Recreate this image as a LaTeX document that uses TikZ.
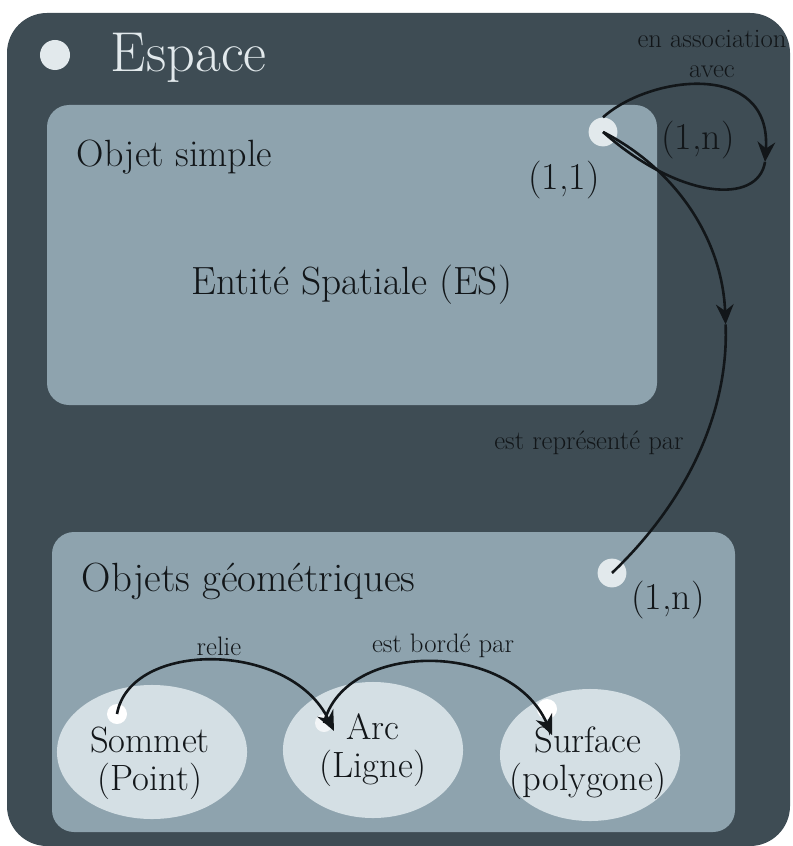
\documentclass[tikz,border=0pt]{standalone}
\usepackage{tikz}
\usetikzlibrary{arrows.meta,shapes.geometric}
\definecolor{espacegris}{RGB}{62,76,84}
\definecolor{objetgris}{RGB}{142,163,174}
\definecolor{bulleclaire}{RGB}{212,223,228}
\definecolor{pointclair}{RGB}{226,233,236}
\definecolor{encre}{RGB}{18,22,25}
\tikzset{
	panneau/.style={fill=objetgris, draw=none, rounded corners=0.55cm},
	pastille/.style={circle, fill=pointclair, draw=none, inner sep=0pt},
	bulle/.style={ellipse, fill=bulleclaire, draw=none, inner sep=0pt},
	bulletexte/.style={align=center, text=encre, font=\fontsize{26}{27}\selectfont},
	titre/.style={text=encre, font=\fontsize{27}{30}\selectfont},
	petit/.style={text=encre, font=\fontsize{19}{22}\selectfont, align=center},
	card/.style={text=encre, font=\fontsize{27}{30}\selectfont},
	lien/.style={line width=0.65mm, color=encre, -{Stealth[length=5mm,width=4.4mm]}},
	trait/.style={line width=0.65mm, color=encre}
}

\begin{document}
\begin{tikzpicture}[x=0.025cm, y=-0.025cm]
		%%%%% START %%%%%
		\useasboundingbox (0, 0) rectangle (792, 846);
		
		\fill[espacegris, rounded corners=1cm] (7, 13) rectangle (790, 846);
		\node[pastille, minimum size=0.75cm] (dotEspace) at (55, 55) {};
		\node[anchor=base west, text=pointclair, font=\fontsize{40}{44}\selectfont] (espace) at (106, 72) {Espace};
		
		\fill[panneau] (47, 105) rectangle (657, 405);
		\fill[panneau] (52, 532) rectangle (735, 832);
		
		\node[titre, anchor=base west] (simple) at (72, 167) {Objet simple};
		\node[titre, anchor=base, font=\fontsize{28}{30}\selectfont] (es) at (352, 294) {Entité Spatiale (ES)};
		\node[titre, anchor=base west, font=\fontsize{29}{32}\selectfont] (geo) at (77, 591) {Objets géométriques};
		
		\node[pastille, minimum size=0.72cm] (dotES) at (603, 132) {};
		\node[pastille, minimum size=0.72cm] (dotGeo) at (612, 573) {};
		
		\node[card] (cardES) at (564, 180) {(1,1)};
		\node[card] (cardLoop) at (698, 140) {(1,n)};
		\node[card] (cardGeo) at (668, 600) {(1,n)};
		
		\node[petit] (assoc) at (712, 54) {en association\\avec};
		\node[petit] (repr) at (589, 443) {est représenté par};
		
		\node[bulle, minimum width=4.75cm, minimum height=3.35cm] (sommet) at (152, 752) {};
		\node[bulle, minimum width=4.5cm, minimum height=3.4cm] (arc) at (373, 750) {};
		\node[bulle, minimum width=4.5cm, minimum height=3.3cm] (surface) at (590, 755) {};
		\node[bulletexte] (sommetTxt) at (150, 763) {Sommet\\(Point)};
		\node[bulletexte] (arcTxt) at (373, 750) {Arc\\(Ligne)};
		\node[bulletexte] (surfaceTxt) at (588, 763) {Surface\\(polygone)};
		
		\node[pastille, fill=white, minimum size=0.5cm] (spotSommet) at (117, 714) {};
		\node[pastille, fill=white!70!bulleclaire, minimum size=0.45cm] (spotArc) at (324, 723) {};
		\node[pastille, fill=white, minimum size=0.5cm] (spotSurface) at (547, 709) {};
		
		\node[petit] (relie) at (219, 646) {relie};
		\node[petit] (borde) at (443, 646) {est bordé par};
		
		\coordinate (loopR) at (765, 162);
		\coordinate (midRep) at (725.6, 324.4);
		\coordinate (arcIn) at (334, 731);
		\coordinate (surfIn) at (552, 735);
		
		% en association avec
		\draw[lien] (dotES.north) .. controls (650, 75) and (772, 60) .. (loopR);
		\draw[trait] (loopR) .. controls (758, 205) and (680, 200) .. (dotES.center);
		
		% est represente par
		\draw[lien] (dotES.center) .. controls (680, 171.5) and (722.5, 243.3) .. (midRep);
		\draw[trait] (midRep) .. controls (728.8, 405.5) and (692.5, 496) .. (dotGeo.center);
		
		\draw[lien] (spotSommet.center) .. controls (130, 640) and (290, 640) .. (arcIn);
		\draw[lien] (spotArc.center) .. controls (345, 640) and (510, 640) .. (surfIn);
		
		%%%%% END %%%%%
	\end{tikzpicture}
\end{document}
